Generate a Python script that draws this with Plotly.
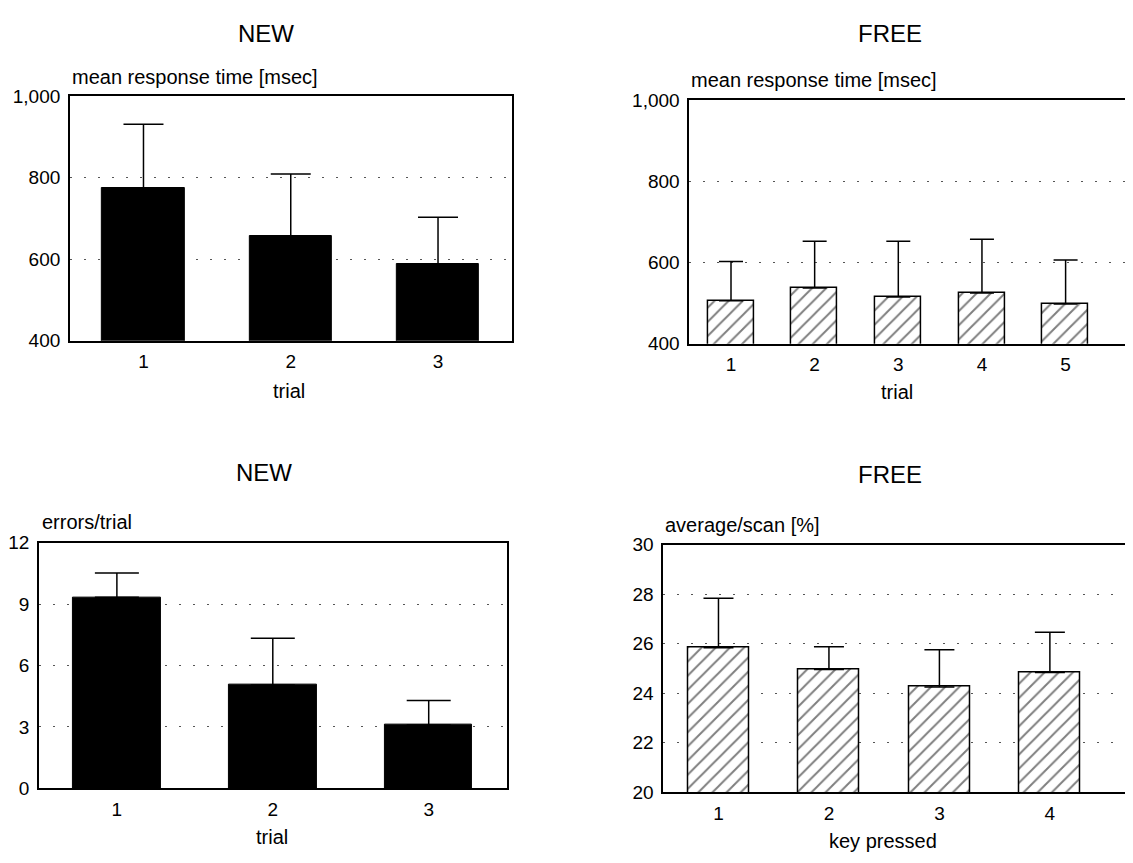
import plotly.graph_objects as go

# ---- data ----
tl_trials = [1, 2, 3]
tl_rt = [775, 656, 589]
tl_rt_err = [156, 153, 114]

tr_trials = [1, 2, 3, 4, 5]
tr_rt = [506, 537, 515, 525, 498]
tr_rt_err = [96, 115, 137, 132, 108]

bl_trials = [1, 2, 3]
bl_err = [9.33, 5.05, 3.1]
bl_err_sd = [1.19, 2.28, 1.19]

br_keys = [1, 2, 3, 4]
br_scan = [25.83, 24.96, 24.25, 24.84]
br_scan_err = [2.0, 0.91, 1.5, 1.62]

# figure size chosen so that the page (with the default body margin) fits the window
FW, FH = 1117, 845
OX, OY = 8, 8
FONT = "Liberation Sans, Arial, Helvetica, sans-serif"

fig = go.Figure()

def px(x):
    return min(1.0, max(0.0, (x - OX) / FW))

def py(y):
    return min(1.0, max(0.0, 1 - (y - OY) / FH))

def add_bar(xs, ys, errs, xa, ya, hatched, capw, bw):
    if hatched:
        marker = dict(color="white", line=dict(color="black", width=1.5),
                      pattern=dict(shape="/", fgcolor="black", bgcolor="white",
                                   size=10, solidity=0.2))
    else:
        marker = dict(color="black", line=dict(color="black", width=1))
    fig.add_trace(go.Bar(
        x=xs, y=ys, xaxis=xa, yaxis=ya, width=bw, marker=marker,
        error_y=dict(type="data", symmetric=False, array=errs,
                     arrayminus=[0] * len(errs), color="black",
                     thickness=1.5, width=capw),
        showlegend=False, hoverinfo="skip"))

add_bar(tl_trials, tl_rt, tl_rt_err, "x", "y", False, 20, 0.56)
add_bar(tr_trials, tr_rt, tr_rt_err, "x2", "y2", True, 12, 0.55)
add_bar(bl_trials, bl_err, bl_err_sd, "x3", "y3", False, 22, 0.56)
add_bar(br_keys, br_scan, br_scan_err, "x4", "y4", True, 15, 0.55)

TICKSIZE = 19
common_x = dict(showgrid=False, zeroline=False, showline=True, linecolor="black",
                linewidth=1.5, ticks="outside", ticklen=3,
                tickcolor="rgba(0,0,0,0)",
                tickfont=dict(family=FONT, size=TICKSIZE, color="black"))
common_y = dict(showgrid=True, gridcolor="#555", gridwidth=1, griddash="2px,12px",
                zeroline=False, showline=True, linecolor="black", linewidth=1.5,
                ticks="outside", ticklen=4, tickcolor="rgba(0,0,0,0)",
                tickfont=dict(family=FONT, size=TICKSIZE, color="black"))

fig.update_layout(
    width=FW, height=FH, margin=dict(l=0, r=0, t=0, b=0),
    plot_bgcolor="white", paper_bgcolor="white", bargap=0,
    font=dict(family=FONT, color="black"),
    xaxis=dict(common_x, domain=[px(67), px(510)], range=[0.5, 3.5],
               tickvals=tl_trials, mirror=True, anchor="y"),
    yaxis=dict(common_y, domain=[py(339), py(88)], range=[400, 1000],
               tickvals=[400, 600, 800, 1000], tickformat=",", mirror=True, anchor="x"),
    xaxis2=dict(common_x, domain=[px(688), 1.0], range=[0.5, 5.71],
                tickvals=tr_trials, mirror=True, anchor="y2"),
    yaxis2=dict(common_y, domain=[py(342), py(92)], range=[400, 1000],
                tickvals=[400, 600, 800, 1000], tickformat=",", anchor="x2"),
    xaxis3=dict(common_x, domain=[px(36), px(505)], range=[0.5, 3.5],
                tickvals=bl_trials, mirror=True, anchor="y3"),
    yaxis3=dict(common_y, domain=[py(798), py(546)], range=[0, 12],
                tickvals=[0, 3, 6, 9, 12], mirror=True, anchor="x3"),
    xaxis4=dict(common_x, domain=[px(662), 1.0], range=[0.5, 4.68],
                tickvals=br_keys, mirror=True, anchor="y4"),
    yaxis4=dict(common_y, domain=[py(802), py(548)], range=[20, 30],
                tickvals=[20, 22, 24, 26, 28, 30], anchor="x4"),
)

def note(text, x, y, size, xanchor="center"):
    fig.add_annotation(text=text, x=px(x), y=py(y), xref="paper", yref="paper",
                       showarrow=False, xanchor=xanchor, yanchor="middle",
                       font=dict(family=FONT, size=size, color="black"))

# panel titles
note("NEW", 264, 24, 24)
note("FREE", 889, 24, 24)
note("NEW", 262, 474, 24)
note("FREE", 889, 476, 24)
# y-axis titles
note("mean response time [msec]", 67, 69, 20, "left")
note("mean response time [msec]", 688, 72, 20, "left")
note("errors/trial", 37, 525, 20, "left")
note("average/scan [%]", 662, 528, 20, "left")
# x-axis titles
note("trial", 287, 390, 20)
note("trial", 896, 392, 20)
note("trial", 270, 848, 20)
note("key pressed", 882, 852, 20)

fig.write_html("out.html")
